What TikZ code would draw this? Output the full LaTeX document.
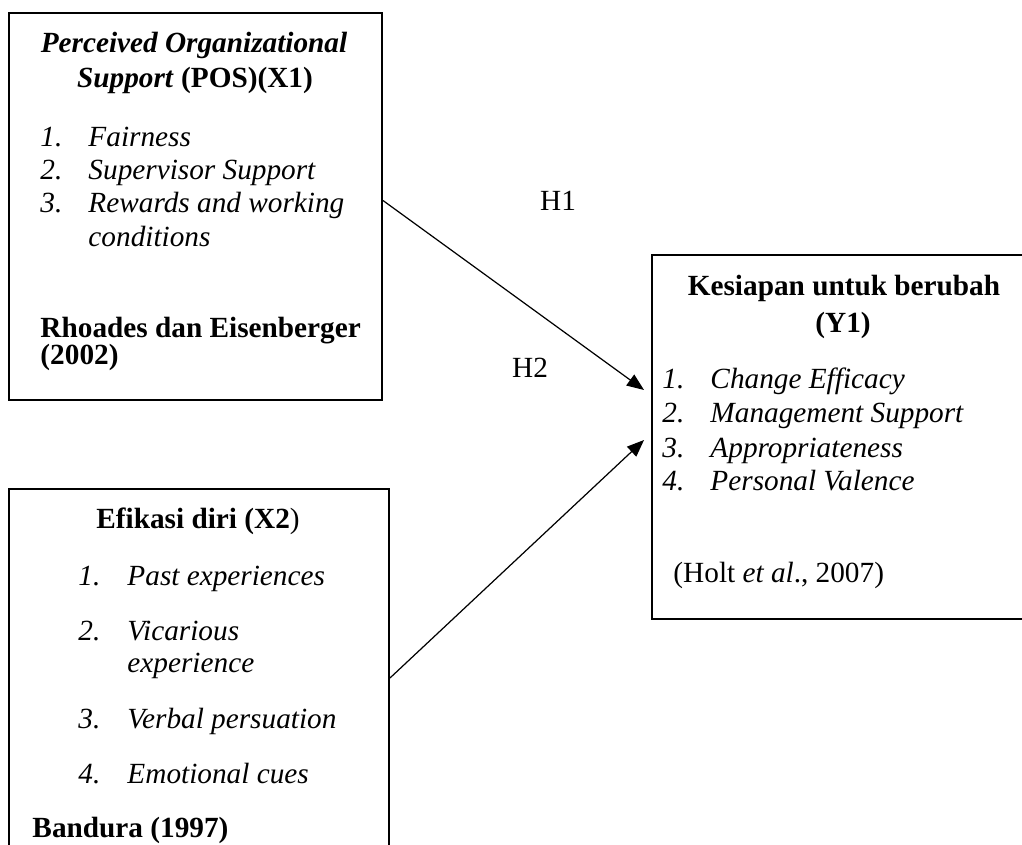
\documentclass[tikz,border=0pt]{standalone}
\usepackage{fontspec}
\setmainfont{Liberation Serif}[
  ItalicFont={Liberation Serif Italic},
  BoldFont={Liberation Serif Bold},
  BoldItalicFont={Liberation Serif Bold Italic}]
\usetikzlibrary{%
  arrows.meta,
  positioning,
  fit}
\tikzset{
  %% Variable boxes
  varbox/.style={
    rectangle, draw=black, line width=0.8pt, inner sep=0pt},
  %% Plain text lines
  txt/.style={
    anchor=base west, inner sep=0pt,
    font=\fontsize{12}{13.8}\selectfont},
  %% Bold centred titles
  headtxt/.style={
    txt, anchor=base,
    font=\fontsize{12}{13.8}\selectfont\bfseries},
  %% Bold references
  reftxt/.style={
    txt, font=\fontsize{12}{13.8}\selectfont\bfseries},
  %% Italic list items
  itemtxt/.style={
    txt, font=\fontsize{12}{13.8}\selectfont\itshape},
  %% Hypothesis labels
  hyptxt/.style={
    txt, anchor=base},
  %% Arrows
  arrow/.style={-{Triangle[length=7pt,width=5.5pt]}, line width=0.5pt, black},
}

\begin{document}
\begin{tikzpicture}[x=0.41pt, y=-0.41pt]
  \path[use as bounding box, clip] (0,0) rectangle (1022,845);

  %% Boxes
  \node[varbox, fit={(9,13) (382,400)}]   (pos) {};
  \node[varbox, fit={(652,255) (1040,619)}] (ktb) {};
  \node[varbox, fit={(9,489) (389,867)}]  (eff) {};

  %% Perceived Organizational Support (X1)
  \node[headtxt] (pos-t1) at (194,52) {\itshape Perceived Organizational};
  \node[headtxt] (pos-t2) at (195,87) {\textit{Support} (POS)(X1)};
  \foreach \i/\lbl/\y in {1/Fairness/146, 2/Supervisor Support/179,
                          3/Rewards and working/212}{
    \node[itemtxt] (pos-n\i) at (40,\y) {\i.};
    \node[itemtxt] (pos-i\i) at (88,\y) {\lbl};
  }
  \node[itemtxt] (pos-i3b) at (88,246) {conditions};
  \node[reftxt] (pos-r1) at (40,337) {Rhoades dan Eisenberger};
  \node[reftxt] (pos-r2) at (40,364) {(2002)};

  %% Kesiapan untuk berubah (Y1)
  \node[headtxt] (ktb-t1) at (844,295) {Kesiapan untuk berubah};
  \node[headtxt] (ktb-t2) at (843,332) {(Y1)};
  \foreach \i/\lbl/\y in {1/Change Efficacy/388, 2/Management Support/422,
                          3/Appropriateness/457, 4/Personal Valence/490}{
    \node[itemtxt] (ktb-n\i) at (662,\y) {\i.};
    \node[itemtxt] (ktb-i\i) at (710,\y) {\lbl};
  }
  \node[txt] (ktb-r) at (673,582) {(Holt \textit{et al}., 2007)};

  %% Efikasi diri (X2)
  \node[headtxt] (eff-t) at (198,528) {Efikasi diri (X2\textmd{)}};
  \foreach \i/\lbl/\y in {1/Past experiences/585, 2/Vicarious/640,
                          3/Verbal persuation/728, 4/Emotional cues/783}{
    \node[itemtxt] (eff-n\i) at (78,\y) {\i.};
    \node[itemtxt] (eff-i\i) at (127,\y) {\lbl};
  }
  \node[itemtxt] (eff-i2b) at (127,672) {experience};
  \node[reftxt] (eff-r) at (32,837) {Bandura (1997)};

  %% Hypotheses
  \node[hyptxt] (h1) at (558,210) {H1};
  \node[hyptxt] (h2) at (530,377) {H2};

  \draw[arrow] ([shift={(0,-6)}]pos.east) -- ([shift={(-7,-47)}]ktb.west);
  \draw[arrow] (eff.east) -- ([shift={(-7,3)}]ktb.west);

\end{tikzpicture}
\end{document}
